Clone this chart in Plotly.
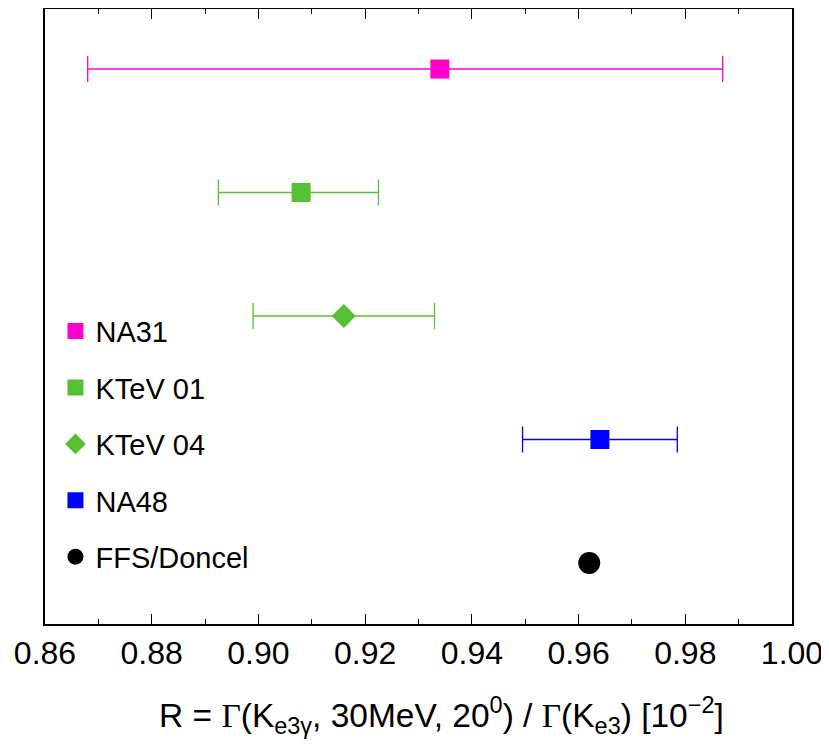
import plotly.graph_objects as go

# Data
experiments = ["NA31", "KTeV 01", "KTeV 04", "NA48", "FFS/Doncel"]
values = [0.934, 0.908, 0.916, 0.964, 0.962]
err_plus = [0.053, 0.0145, 0.017, 0.0145, None]
err_minus = [0.066, 0.0155, 0.017, 0.0145, None]
rows = [5, 4, 3, 2, 1]
colors = ["#ff00cc", "#55c034", "#55c034", "#0000ff", "#000000"]
symbols = ["square", "square", "diamond", "square", "circle"]
sizes = [19, 19, 18.5, 19, 22]
x_ticks = [0.86, 0.88, 0.90, 0.92, 0.94, 0.96, 0.98, 1.00]
x_title = ("R = <span style='font-family:Liberation Serif'>Γ</span>(K<sub>e3γ</sub>, 30MeV, 20<sup>0</sup>) / "
           "<span style='font-family:Liberation Serif'>Γ</span>(K<sub>e3</sub>) [10<sup>−2</sup>]")

fig = go.Figure()
for i, name in enumerate(experiments):
    tr = dict(
        x=[values[i]], y=[rows[i]], mode="markers", name=name,
        legendgroup=name,
        marker=dict(symbol=symbols[i], size=sizes[i], color=colors[i], line=dict(width=0)),
    )
    if err_plus[i] is not None:
        tr["error_x"] = dict(type="data", symmetric=False, array=[err_plus[i]],
                             arrayminus=[err_minus[i]], color=colors[i],
                             thickness=1.3, width=13)
    fig.add_trace(go.Scatter(**tr))

fig.add_annotation(text=x_title, xref="paper", yref="paper", x=0.531, y=-0.108,
                   xanchor="center", yanchor="top", showarrow=False,
                   font=dict(size=33.5))

fig.update_layout(
    width=821, height=737,
    margin=dict(l=37, r=37, t=1, b=121),
    paper_bgcolor="white", plot_bgcolor="white",
    font=dict(family="Liberation Sans, Arial, sans-serif", color="black"),
    showlegend=True,
    legend=dict(x=0.014, y=0.5175, xanchor="left", yanchor="top",
                font=dict(size=29), bgcolor="rgba(0,0,0,0)",
                tracegroupgap=15.7, itemsizing="trace"),
    xaxis=dict(
        range=[0.86, 1.00], tickvals=x_ticks,
        ticktext=[f"{v:.2f}" for v in x_ticks],
        showgrid=False, zeroline=False, automargin=False,
        showline=True, linecolor="black", linewidth=2, mirror="ticks",
        ticks="inside", ticklen=10, tickwidth=1.2, tickcolor="black",
        tickfont=dict(size=32),
        minor=dict(dtick=0.01, ticks="inside", ticklen=5, tickwidth=1.2, tickcolor="black", showgrid=False),
    ),
    yaxis=dict(
        range=[0.506, 5.486], showticklabels=False, ticks="",
        showgrid=False, zeroline=False, automargin=False,
        showline=True, linecolor="black", linewidth=2, mirror=True,
    ),
)

fig.write_html("out.html")
